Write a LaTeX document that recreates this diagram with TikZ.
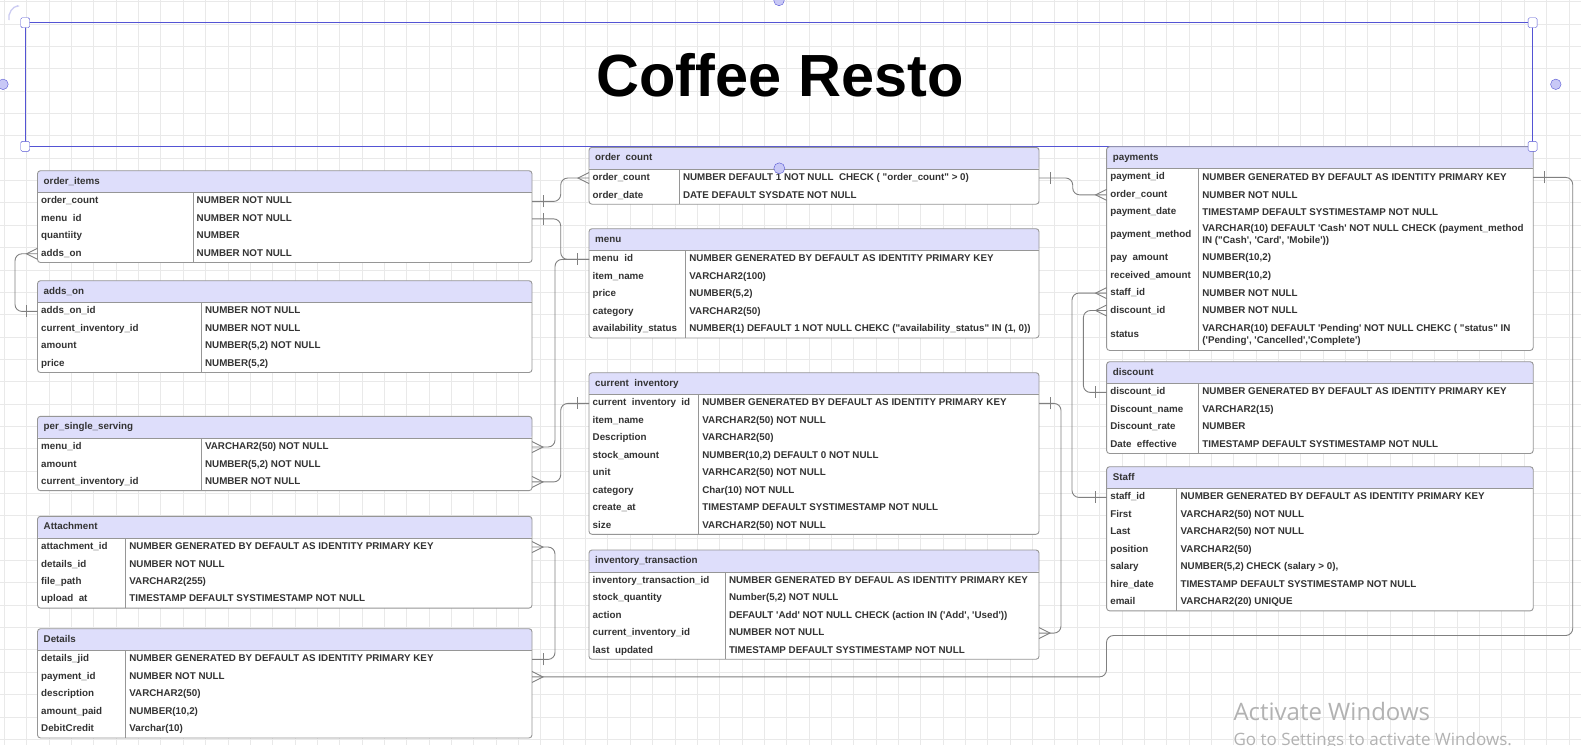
\documentclass[tikz,border=0pt]{standalone}
\usepackage{fontspec}
\newfontfamily\erfont{Liberation Sans}
\newfontfamily\winfont{Open Sans}
\usetikzlibrary{arrows.meta, positioning}
\definecolor{erhead}{RGB}{222,222,251}
\definecolor{erline}{RGB}{150,150,150}
\definecolor{erlink}{RGB}{128,128,128}
\definecolor{ertext}{RGB}{51,51,51}
\definecolor{erframe}{RGB}{84,84,212}
\definecolor{erhandle}{RGB}{200,200,246}
\definecolor{ergrid}{RGB}{233,233,233}

\begin{document}
\begin{tikzpicture}[
  x=1pt, y=-1pt,
  every node/.style={font=\erfont\fontsize{9.8}{11.7}\selectfont\bfseries, text=ertext},
  head/.style={fill=erhead, anchor=north west, minimum height=22, inner sep=0, outer sep=0, rounded corners=3},
  row/.style={fill=white, minimum height=17.45, inner sep=0, outer sep=0},
  key/.style={anchor=west, inner sep=0, xshift=3.5, text height=7.1, text depth=2},
  val/.style={anchor=west, inner sep=0, xshift=3.5, text height=7.1, text depth=2},
  valx/.style={anchor=west, inner sep=0, xshift=3.5, align=left},
  htext/.style={anchor=west, inner sep=0, xshift=6, text height=7.1, text depth=2},
  box/.style={draw=erline, line width=0.9, rounded corners=3},
  cut/.style={draw=erline, line width=0.9},
  link/.style={draw=erlink, line width=0.9, rounded corners=7},
  gridl/.style={draw=ergrid, line width=0.8},
  hsq/.style={draw=erframe, fill=white, rounded corners=1.5, minimum width=9, minimum height=10, inner sep=0},
  many/.pic={\draw[erlink, line width=0.9] (0,-5.5) -- (-11,0) -- (0,5.5);},
  one/.pic={\draw[erlink, line width=0.9] (-11.5,-6) -- (-11.5,6);},
]
\useasboundingbox (0,0) rectangle (1581,745);
\fill[white] (0,0) rectangle (1581,745);
% background grid
\foreach \g in {0,...,70}
  \draw[gridl] (4.4+22.35*\g,0) -- (4.4+22.35*\g,745);
\foreach \g in {0,...,33}
  \draw[gridl] (0,1.7+22.35*\g) -- (1581,1.7+22.35*\g);

% title frame
\draw[erframe, line width=1.2] (25.2,22.7) rectangle (1532.6,146.3);
\node[font=\erfont\fontsize{59.5}{60}\selectfont\bfseries, text=black] (title) at (780,75) {Coffee Resto};

% order_items
\node[head, minimum width=494.5, alias=oi-0] (oi) at (37.5,170.7) {};
\node[htext] (oi-t) at (oi.west) {order\_items};
\foreach \k/\v [count=\i, remember=\i as \j (initially 0)] in {order\_count/NUMBER NOT NULL, menu\ \ id/NUMBER NOT NULL, quantiity/NUMBER, adds\_on/NUMBER NOT NULL}{
  \node[row, minimum width=494.5, below=0pt of oi-\j] (oi-\i) {};
  \node[key] (oi-k\i) at (oi-\i.west) {\k};
  \node[val] (oi-v\i) at ([xshift=155.5]oi-\i.west) {\v};
}
\draw[cut] ([xshift=155.5]oi.south west) -- ([xshift=155.5]oi-4.south west);
\draw[cut] (oi.south west) -- (oi.south east);
\draw[box] (oi.north west) rectangle (oi-4.south east);

% adds_on
\node[head, minimum width=494.5, alias=ao-0] (ao) at (37.5,280.7) {};
\node[htext] (ao-t) at (ao.west) {adds\_on};
\foreach \k/\v [count=\i, remember=\i as \j (initially 0)] in {adds\_on\_id/NUMBER NOT NULL, current\_inventory\_id/NUMBER NOT NULL, amount/{NUMBER(5,2) NOT NULL}, price/{NUMBER(5,2)}}{
  \node[row, minimum width=494.5, below=0pt of ao-\j] (ao-\i) {};
  \node[key] (ao-k\i) at (ao-\i.west) {\k};
  \node[val] (ao-v\i) at ([xshift=163.9]ao-\i.west) {\v};
}
\draw[cut] ([xshift=163.9]ao.south west) -- ([xshift=163.9]ao-4.south west);
\draw[cut] (ao.south west) -- (ao.south east);
\draw[box] (ao.north west) rectangle (ao-4.south east);

% per_single_serving
\node[head, minimum width=494.5, alias=ps-0] (ps) at (37.5,416.3) {};
\node[htext] (ps-t) at (ps.west) {per\_single\_serving};
\foreach \k/\v [count=\i, remember=\i as \j (initially 0)] in {menu\_id/VARCHAR2(50) NOT NULL, amount/{NUMBER(5,2) NOT NULL}, current\_inventory\_id/NUMBER NOT NULL}{
  \node[row, minimum width=494.5, below=0pt of ps-\j] (ps-\i) {};
  \node[key] (ps-k\i) at (ps-\i.west) {\k};
  \node[val] (ps-v\i) at ([xshift=163.9]ps-\i.west) {\v};
}
\draw[cut] ([xshift=163.9]ps.south west) -- ([xshift=163.9]ps-3.south west);
\draw[cut] (ps.south west) -- (ps.south east);
\draw[box] (ps.north west) rectangle (ps-3.south east);

% Attachment
\node[head, minimum width=494.5, alias=at-0] (at) at (37.5,516.3) {};
\node[htext] (at-t) at (at.west) {Attachment};
\foreach \k/\v [count=\i, remember=\i as \j (initially 0)] in {attachment\_id/NUMBER GENERATED BY DEFAULT AS IDENTITY PRIMARY KEY, details\_id/NUMBER NOT NULL, file\_path/VARCHAR2(255), upload\ \ at/TIMESTAMP DEFAULT SYSTIMESTAMP NOT NULL}{
  \node[row, minimum width=494.5, below=0pt of at-\j] (at-\i) {};
  \node[key] (at-k\i) at (at-\i.west) {\k};
  \node[val] (at-v\i) at ([xshift=88.2]at-\i.west) {\v};
}
\draw[cut] ([xshift=88.2]at.south west) -- ([xshift=88.2]at-4.south west);
\draw[cut] (at.south west) -- (at.south east);
\draw[box] (at.north west) rectangle (at-4.south east);

% Details
\node[head, minimum width=494.5, alias=de-0] (de) at (37.5,628.7) {};
\node[htext] (de-t) at (de.west) {Details};
\foreach \k/\v [count=\i, remember=\i as \j (initially 0)] in {details\_jid/NUMBER GENERATED BY DEFAULT AS IDENTITY PRIMARY KEY, payment\_id/NUMBER NOT NULL, description/VARCHAR2(50), amount\_paid/{NUMBER(10,2)}, DebitCredit/Varchar(10)}{
  \node[row, minimum width=494.5, below=0pt of de-\j] (de-\i) {};
  \node[key] (de-k\i) at (de-\i.west) {\k};
  \node[val] (de-v\i) at ([xshift=88.2]de-\i.west) {\v};
}
\draw[cut] ([xshift=88.2]de.south west) -- ([xshift=88.2]de-5.south west);
\draw[cut] (de.south west) -- (de.south east);
\draw[box] (de.north west) rectangle (de-5.south east);

% order count
\node[head, minimum width=450, alias=oc-0] (oc) at (589,147.3) {};
\node[htext] (oc-t) at (oc.west) {order\ \ count};
\foreach \k/\v [count=\i, remember=\i as \j (initially 0)] in {order\_count/NUMBER DEFAULT 1 NOT NULL\ \ CHECK ( "order\_count" > 0), order\_date/DATE DEFAULT SYSDATE NOT NULL}{
  \node[row, minimum width=450, below=0pt of oc-\j] (oc-\i) {};
  \node[key] (oc-k\i) at (oc-\i.west) {\k};
  \node[val] (oc-v\i) at ([xshift=90.3]oc-\i.west) {\v};
}
\draw[cut] ([xshift=90.3]oc.south west) -- ([xshift=90.3]oc-2.south west);
\draw[cut] (oc.south west) -- (oc.south east);
\draw[box] (oc.north west) rectangle (oc-2.south east);

% menu
\node[head, minimum width=450, alias=me-0] (me) at (589,228.7) {};
\node[htext] (me-t) at (me.west) {menu};
\foreach \k/\v [count=\i, remember=\i as \j (initially 0)] in {menu\ \ id/NUMBER GENERATED BY DEFAULT AS IDENTITY PRIMARY KEY, item\_name/VARCHAR2(100), price/{NUMBER(5,2)}, category/VARCHAR2(50), availability\_status/{NUMBER(1) DEFAULT 1 NOT NULL CHEKC ("availability\_status" IN (1, 0))}}{
  \node[row, minimum width=450, below=0pt of me-\j] (me-\i) {};
  \node[key] (me-k\i) at (me-\i.west) {\k};
  \node[val] (me-v\i) at ([xshift=96.7]me-\i.west) {\v};
}
\draw[cut] ([xshift=96.7]me.south west) -- ([xshift=96.7]me-5.south west);
\draw[cut] (me.south west) -- (me.south east);
\draw[box] (me.north west) rectangle (me-5.south east);

% current inventory
\node[head, minimum width=450, alias=ci-0] (ci) at (589,372.7) {};
\node[htext] (ci-t) at (ci.west) {current\ \ inventory};
\foreach \k/\v [count=\i, remember=\i as \j (initially 0)] in {current\ \ inventory\ \ id/NUMBER GENERATED BY DEFAULT AS IDENTITY PRIMARY KEY, item\_name/VARCHAR2(50) NOT NULL, Description/VARCHAR2(50), stock\_amount/{NUMBER(10,2) DEFAULT 0 NOT NULL}, unit/VARHCAR2(50) NOT NULL, category/Char(10) NOT NULL, create\_at/TIMESTAMP DEFAULT SYSTIMESTAMP NOT NULL, size/VARCHAR2(50) NOT NULL}{
  \node[row, minimum width=450, below=0pt of ci-\j] (ci-\i) {};
  \node[key] (ci-k\i) at (ci-\i.west) {\k};
  \node[val] (ci-v\i) at ([xshift=109.7]ci-\i.west) {\v};
}
\draw[cut] ([xshift=109.7]ci.south west) -- ([xshift=109.7]ci-8.south west);
\draw[cut] (ci.south west) -- (ci.south east);
\draw[box] (ci.north west) rectangle (ci-8.south east);

% inventory_transaction
\node[head, minimum width=450, alias=it-0] (it) at (589,550) {};
\node[htext] (it-t) at (it.west) {inventory\_transaction};
\foreach \k/\v [count=\i, remember=\i as \j (initially 0)] in {inventory\_transaction\_id/NUMBER GENERATED BY DEFAUL AS IDENTITY PRIMARY KEY, stock\_quantity/{Number(5,2) NOT NULL}, action/{DEFAULT 'Add' NOT NULL CHECK (action IN ('Add', 'Used'))}, current\_inventory\_id/NUMBER NOT NULL, last\ \ updated/TIMESTAMP DEFAULT SYSTIMESTAMP NOT NULL}{
  \node[row, minimum width=450, below=0pt of it-\j] (it-\i) {};
  \node[key] (it-k\i) at (it-\i.west) {\k};
  \node[val] (it-v\i) at ([xshift=136.3]it-\i.west) {\v};
}
\draw[cut] ([xshift=136.3]it.south west) -- ([xshift=136.3]it-5.south west);
\draw[cut] (it.south west) -- (it.south east);
\draw[box] (it.north west) rectangle (it-5.south east);

% payments
\node[head, minimum width=426.6, alias=pa-0] (pa) at (1106.6,146.7) {};
\node[htext] (pa-t) at (pa.west) {payments};
\foreach \k/\v/\h [count=\i, remember=\i as \j (initially 0)] in {payment\_id/NUMBER GENERATED BY DEFAULT AS IDENTITY PRIMARY KEY/17.45, order\_count/NUMBER NOT NULL/17.45, payment\_date/TIMESTAMP DEFAULT SYSTIMESTAMP NOT NULL/17.45, payment\_method/{VARCHAR(10) DEFAULT 'Cash' NOT NULL CHECK (payment\_method\\IN ("Cash', 'Card', 'Mobile'))}/28.4, pay\ \ amount/{NUMBER(10,2)}/17.45, received\_amount/{NUMBER(10,2)}/17.45, staff\_id/NUMBER NOT NULL/17.45, discount\_id/NUMBER NOT NULL/17.45, status/{VARCHAR(10) DEFAULT 'Pending' NOT NULL CHEKC ( "status" IN\\('Pending', 'Cancelled','Complete')}/31.2}{
  \node[row, minimum width=426.6, minimum height=\h, below=0pt of pa-\j] (pa-\i) {};
  \node[key] (pa-k\i) at (pa-\i.west) {\k};
  \node[valx] (pa-v\i) at ([xshift=92.1]pa-\i.west) {\v};
}
\draw[cut] ([xshift=92.1]pa.south west) -- ([xshift=92.1]pa-9.south west);
\draw[cut] (pa.south west) -- (pa.south east);
\draw[box] (pa.north west) rectangle (pa-9.south east);

% discount
\node[head, minimum width=426.6, alias=di-0] (di) at (1106.6,361.7) {};
\node[htext] (di-t) at (di.west) {discount};
\foreach \k/\v [count=\i, remember=\i as \j (initially 0)] in {discount\_id/NUMBER GENERATED BY DEFAULT AS IDENTITY PRIMARY KEY, Discount\_name/VARCHAR2(15), Discount\_rate/NUMBER, Date\ \ effective/TIMESTAMP DEFAULT SYSTIMESTAMP NOT NULL}{
  \node[row, minimum width=426.6, below=0pt of di-\j] (di-\i) {};
  \node[key] (di-k\i) at (di-\i.west) {\k};
  \node[val] (di-v\i) at ([xshift=92.1]di-\i.west) {\v};
}
\draw[cut] ([xshift=92.1]di.south west) -- ([xshift=92.1]di-4.south west);
\draw[cut] (di.south west) -- (di.south east);
\draw[box] (di.north west) rectangle (di-4.south east);

% Staff
\node[head, minimum width=426.6, alias=st-0] (st) at (1106.6,466.7) {};
\node[htext] (st-t) at (st.west) {Staff};
\foreach \k/\v [count=\i, remember=\i as \j (initially 0)] in {staff\_id/NUMBER GENERATED BY DEFAULT AS IDENTITY PRIMARY KEY, First/VARCHAR2(50) NOT NULL, Last/VARCHAR2(50) NOT NULL, position/VARCHAR2(50), salary/{NUMBER(5,2) CHECK (salary > 0),}, hire\_date/TIMESTAMP DEFAULT SYSTIMESTAMP NOT NULL, email/VARCHAR2(20) UNIQUE}{
  \node[row, minimum width=426.6, below=0pt of st-\j] (st-\i) {};
  \node[key] (st-k\i) at (st-\i.west) {\k};
  \node[val] (st-v\i) at ([xshift=70.3]st-\i.west) {\v};
}
\draw[cut] ([xshift=70.3]st.south west) -- ([xshift=70.3]st-7.south west);
\draw[cut] (st.south west) -- (st.south east);
\draw[box] (st.north west) rectangle (st-7.south east);

% relations
\draw[link] (oi-1.east) -- ++(28.7,0) |- (oc-1.west);
\pic[rotate=180] at (oi-1.east) {one};
\pic at (oc-1.west) {many};
\draw[link] (oi-2.east) -- ++(28.7,0) |- (me-1.west);
\pic[rotate=180] at (oi-2.east) {one};
\pic at (me-1.west) {one};
\draw[link] (ps-1.east) -- ++(23,0) |- (me-1.west);
\pic[rotate=180] at (ps-1.east) {many};
\draw[link] (ps-3.east) -- ++(28.7,0) |- (ci-1.west);
\pic[rotate=180] at (ps-3.east) {many};
\pic at (ci-1.west) {one};
\draw[link] (ci-1.east) -- ++(22,0) |- (it-4.east);
\pic[rotate=180] at (ci-1.east) {one};
\pic[rotate=180] at (it-4.east) {many};
\draw[link] (oc-1.east) -- ++(33.7,0) |- (pa-2.west);
\pic[rotate=180] at (oc-1.east) {one};
\pic at (pa-2.west) {many};
\draw[link] (pa-7.west) -- ++(-34.6,0) |- (st-1.west);
\pic at (pa-7.west) {many};
\pic at (st-1.west) {one};
\draw[link] (pa-8.west) -- ++(-23.2,0) |- (di-1.west);
\pic at (pa-8.west) {many};
\pic at (di-1.west) {one};
\draw[link] (pa-1.east) -| (1572.7,635.5) -- (1106.5,635.5) |- (de-2.east);
\pic[rotate=180] at (pa-1.east) {one};
\pic[rotate=180] at (de-2.east) {many};
\draw[link] (at-1.east) -- ++(23,0) |- (de-1.east);
\pic[rotate=180] at (at-1.east) {many};
\pic[rotate=180] at (de-1.east) {one};
\draw[link] (oi-4.west) -- ++(-22.5,0) |- (ao-1.west);
\pic at (oi-4.west) {many};
\pic at (ao-1.west) {one};

% selection handles
\node[hsq] (h-nw) at (25.2,22.7) {};
\node[hsq] (h-ne) at (1532.6,22.7) {};
\node[hsq] (h-sw) at (25.2,146.3) {};
\node[hsq] (h-se) at (1532.6,146.3) {};
\node[draw=erframe, fill=erhandle, circle, minimum size=10.5, inner sep=0] (h-w) at (3,84.3) {};
\node[draw=erframe, fill=erhandle, circle, minimum size=10.5, inner sep=0] (h-e) at (1555.8,84.3) {};
\node[draw=erframe, fill=erhandle, circle, minimum size=10.5, inner sep=0] (h-n) at (779,0.5) {};
\node[draw=erframe, fill=erhandle, circle, minimum size=11, inner sep=0] (h-c) at (779.3,168.3) {};
\draw[erframe!30, line width=1.3, -{Latex[length=3pt]}] (9,20) to[bend left=50] (20,6);

% watermark
\node[anchor=base west, font=\winfont\fontsize{24}{26}\selectfont, text=black!30] (act) at (1230,720) {Activate Windows};
\node[anchor=base west, font=\winfont\fontsize{17}{18}\selectfont, text=black!30] (goto) at (1230,745) {Go to Settings to activate Windows.};
\end{tikzpicture}
\end{document}
